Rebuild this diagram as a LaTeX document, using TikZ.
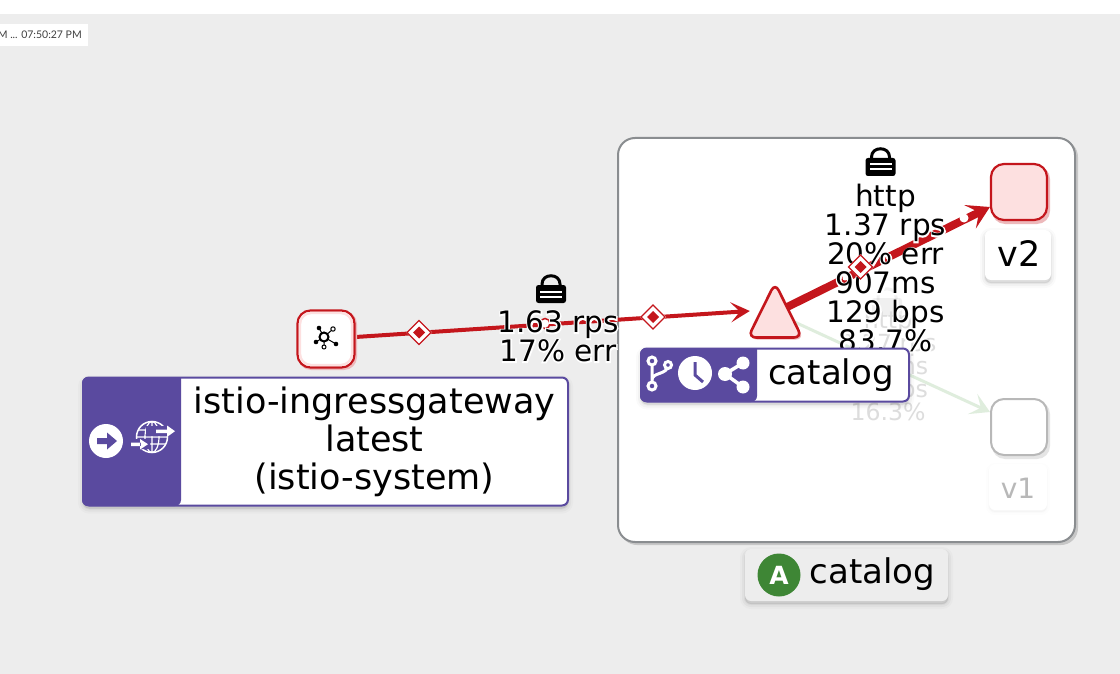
\documentclass[tikz,border=0pt]{standalone}
\usepackage{fontspec}
\usetikzlibrary{arrows.meta,shadows,calc}
\setmainfont{DejaVu Sans}
\newfontfamily\halofont[FakeBold=9]{DejaVu Sans}
\newfontfamily\latofont{Lato}
\definecolor{pagebg}{HTML}{EDEDED}
\definecolor{kred}{HTML}{C4161C}
\definecolor{kpink}{HTML}{FDE0E0}
\definecolor{kpurple}{HTML}{5A4A9F}
\definecolor{kgray}{HTML}{8A8D90}
\definecolor{kgreen}{HTML}{3E8635}
\definecolor{kfaded}{HTML}{DFEDDD}
\definecolor{kfadetext}{HTML}{DDDDDD}
\pgfdeclarelayer{grouplayer}
\pgfdeclarelayer{edgelayer}
\pgfsetlayers{grouplayer,edgelayer,main}
\newcommand\halotxt[1]{\leavevmode\rlap{\halofont\color{white}#1}#1}
\newcommand\lockicon[2]{%
  \begin{scope}[shift={(#1,#2)}]
    \draw[black,line width=3] (-9,0) -- (-9,-3) .. controls (-9,-14) and (9,-14) .. (9,-3) -- (9,0);
    \fill[black,rounded corners=2.5] (-15,-2) rectangle (15,16);
    \fill[white] (-11,3.5) rectangle (11,5.5);
    \fill[white] (-11,8.5) rectangle (11,10.5);
  \end{scope}}
\tikzset{
  softshadow/.style={
    general shadow={shadow xshift=0pt,shadow yshift=-3pt,fill=black,draw=black,line width=10pt,opacity=.02},
    general shadow={shadow xshift=0pt,shadow yshift=-3pt,fill=black,draw=black,line width=6pt,opacity=.03},
    general shadow={shadow xshift=0pt,shadow yshift=-3pt,fill=black,draw=black,line width=2pt,opacity=.04}},
  faintshadow/.style={
    general shadow={shadow xshift=0pt,shadow yshift=-2pt,fill=black,draw=black,line width=6pt,opacity=.008},
    general shadow={shadow xshift=0pt,shadow yshift=-2pt,fill=black,draw=black,line width=2pt,opacity=.01}},
  labelbox/.style={rectangle,rounded corners=6,inner sep=0,fill=white,draw=kpurple,line width=2,softshadow},
  wlbox/.style={rectangle,rounded corners=6,inner sep=0,fill=white,softshadow},
  svcbox/.style={rectangle,rounded corners=13,inner sep=0,minimum width=56,minimum height=56,line width=2.2},
  big/.style={inner sep=0,align=center,font=\fontsize{35}{38}\selectfont},
  mid/.style={inner sep=0,align=center,font=\fontsize{34}{38}\selectfont},
  edgetxt/.style={inner sep=0,align=center,font=\fontsize{29.5}{29}\selectfont},
  fadetxt/.style={inner sep=0,align=center,text=kfadetext,font=\fontsize{23.6}{23}\selectfont},
  reddge/.style={draw=kred,-{Stealth[length=19pt,width=20pt,inset=9pt]}},
  dmouter/.style={fill=white,draw=kred,line width=1.2},
  dminner/.style={fill=kred},
  dotmark/.style={circle,inner sep=0,minimum size=10,fill=white,draw=kred,line width=1.5},
  smalldot/.style={circle,inner sep=0,minimum size=5,fill=white,draw=none},
}
\begin{document}
\begin{tikzpicture}[x=1pt,y=-1pt]
\useasboundingbox (0,0) rectangle (1120,674);
\begin{pgfonlayer}{grouplayer}
  \fill[pagebg] (0,0) rectangle (1120,674);
  \fill[white] (0,0) rectangle (1120,14);
  \fill[white] (0,24) rectangle (88,46);
  % application box
  \fill[black!22,rounded corners=17] (620,140) rectangle (1078,545);
  \node[rectangle,rounded corners=17,inner sep=0,fill=white,draw=kgray,line width=2,minimum width=457,minimum height=404] (app) at (846.5,340) {};
\end{pgfonlayer}
\node[anchor=east,inner sep=0,text=black!75,font=\latofont\fontsize{10.5}{12}\selectfont] (stamp) at (82,35) {M ... 07:50:27 PM};

% nodes
\fill[kred!30,rounded corners=13] (298,311) rectangle (357,370);
\node[svcbox,minimum width=57,minimum height=57,fill=white,draw=kred] (gw) at (326,339) {};
\draw[kpink,line width=2.4,rounded corners=11] (300,313) rectangle (352,365);
\begin{scope}
  \draw[black,line width=1] (324,337) -- (319,328) (324,337) -- (333,329) (324,337) -- (316,342) (324,337) -- (336,344) (324,337) -- (324,347);
  \draw[black,line width=2,fill=white] (324,337) circle[radius=4.5];
  \fill[black] (319,328) circle[radius=2.3] (316,342) circle[radius=2.3] (336,344) circle[radius=2.3];
  \draw[black,line width=1,fill=white] (333,329) circle[radius=2.2] (324,347) circle[radius=2];
\end{scope}

\fill[kred!30,rounded corners=13] (992,166) rectangle (1050,224);
\node[svcbox,fill=kpink,draw=kred] (vtwo) at (1019,192) {};
\fill[black!10,rounded corners=13] (992,401) rectangle (1050,459);
\node[svcbox,fill=white,draw=black!28,line width=2] (vone) at (1019,427) {};

\node[rectangle,inner sep=0,minimum width=50,minimum height=52,draw=none] (svc) at (775,313) {};
\fill[kred!30,rounded corners=8] (776,285) -- (749,339.5) -- (804,339.5) -- cycle;
\draw[kred,fill=kpink,line width=2.6,rounded corners=8] (775,283) -- (748,337.5) -- (802,337.5) -- cycle;

% edges
\begin{pgfonlayer}{edgelayer}
  \draw[kfaded,line width=3,-{Stealth[length=19pt,width=22pt,inset=9pt]}] (svc.center) -- ([yshift=15pt]vone.west);
  \draw[reddge,line width=4] ([yshift=2pt]gw.east) -- ([yshift=2pt]svc.west);
  \draw[reddge,line width=8,-{Stealth[length=22pt,width=26pt,inset=10pt]}] (svc.center) -- ([yshift=-15pt]vtwo.west);
\end{pgfonlayer}

% markers on edges
\node[dotmark] (pa) at (545,323.5) {};
\node[smalldot,minimum size=4,fill=kred] (pb) at (533,324.5) {};
\node[smalldot,minimum size=9] (pc) at (964,218) {};
\node[smalldot] (pd) at (845,278) {};
\node[smalldot,minimum size=3] (pe) at (915,240) {};
\node[smalldot,minimum size=3] (pf) at (887,258) {};

% faded label
\begin{scope}[opacity=.06]\lockicon{887}{300}\end{scope}
\node[fadetxt] (vonelab) at (888,365.5) {http\\0.27 rps\\450ms\\25 bps\\16.3\%};

% edge labels
\lockicon{551}{287}
\node[edgetxt] (elab) at (558,336.5) {\halotxt{1.63 rps}\\\halotxt{17\% err}};
\lockicon{880.5}{160}
\node[edgetxt] (vtwolab) at (885.5,268.5) {\halotxt{http}\\\halotxt{1.37 rps}\\\halotxt{20\% err}\\\halotxt{907ms}\\\halotxt{129 bps}\\\halotxt{83.7\%}};

% diamonds
\foreach \n/\cx/\cy in {da/419/332.5,db/653/317,dc/860.5/267}{
  \coordinate (\n) at (\cx,\cy);
  \fill[white] ($(\n)+(-13,0)$) -- ($(\n)+(0,-13)$) -- ($(\n)+(13,0)$) -- ($(\n)+(0,13)$) -- cycle;
  \draw[dmouter] ($(\n)+(-12,0)$) -- ($(\n)+(0,-12)$) -- ($(\n)+(12,0)$) -- ($(\n)+(0,12)$) -- cycle;
  \fill[dminner] ($(\n)+(-6,0)$) -- ($(\n)+(0,-6)$) -- ($(\n)+(6,0)$) -- ($(\n)+(0,6)$) -- cycle;
}

% version labels
\node[wlbox,minimum width=66,minimum height=50] (vtwotag) at (1018,255) {};
\node[big] (vtwotxt) at (1019,254) {v2};
\node[rectangle,rounded corners=6,inner sep=0,fill=white,faintshadow,minimum width=58,minimum height=46] (vonetag) at (1018,487) {};
\node[big,text=black!28,font=\fontsize{28}{30}\selectfont] (vonetxt) at (1018,488) {v1};

% gateway label
\node[labelbox,minimum width=485,minimum height=128] (gwlab) at (325.5,441.5) {};
\fill[kpurple,rounded corners=6] (181,377) -- (82,377) -- (82,506) -- (181,506) [sharp corners] -- cycle;
\node[big] (gwtxt) at (374.5,441.5) {istio-ingressgateway\\latest\\(istio-system)};
\fill[white] (106,441) circle[radius=17];
\fill[kpurple] (97,438) -- (107,438) -- (107,432.5) -- (117,441) -- (107,449.5) -- (107,444) -- (97,444) -- cycle;
\draw[white,line width=1.5] (152,437) circle[radius=15.5];
\draw[white,line width=1.2] (152,437) ellipse[x radius=7,y radius=15.5] (152,421.5) -- (152,452.5) (138,430) -- (166,430) (137,437) -- (167,437) (138,444) -- (166,444);
\fill[kpurple] (146,426) rectangle (176,436) (128,439) rectangle (150,449);
\fill[white] (156,429.5) rectangle (167,433) (167,425.5) -- (175,431.2) -- (167,437) -- cycle;
\fill[white] (131,442.5) rectangle (141,446) (140,439) -- (148,444.2) -- (140,449.5) -- cycle;

% catalog label
\node[labelbox,minimum width=268,minimum height=53] (catlab) at (775,375) {};
\fill[kpurple,rounded corners=6] (757,348) -- (640,348) -- (640,402) -- (757,402) [sharp corners] -- cycle;
\node[mid] (cattxt) at (831,375) {catalog};
\draw[white,line width=3] (652,361) -- (652,386) (668,365) .. controls (668,375) and (652,372) .. (652,380);
\draw[white,fill=kpurple,line width=3] (652,361) circle[radius=4] (668,365) circle[radius=3.5] (652,386) circle[radius=4];
\fill[white] (695,373) circle[radius=17];
\draw[kpurple,line width=3] (695,362) -- (695,375) -- (703,382);
\draw[white,line width=3.5] (743,363) -- (725,374) -- (743,387);
\fill[white] (743,363) circle[radius=6.5] (725,374) circle[radius=7] (743,387) circle[radius=6.5];

% app label
\node[wlbox,fill=pagebg,minimum width=203,minimum height=52] (apptag) at (846.5,575) {};
\node[circle,inner sep=0,minimum size=43,fill=kgreen,text=white,font=\fontsize{25}{25}\selectfont\bfseries] (appbadge) at (779,575) {A};
\node[mid] (apptxt) at (872.5,574) {catalog};
\end{tikzpicture}
\end{document}
